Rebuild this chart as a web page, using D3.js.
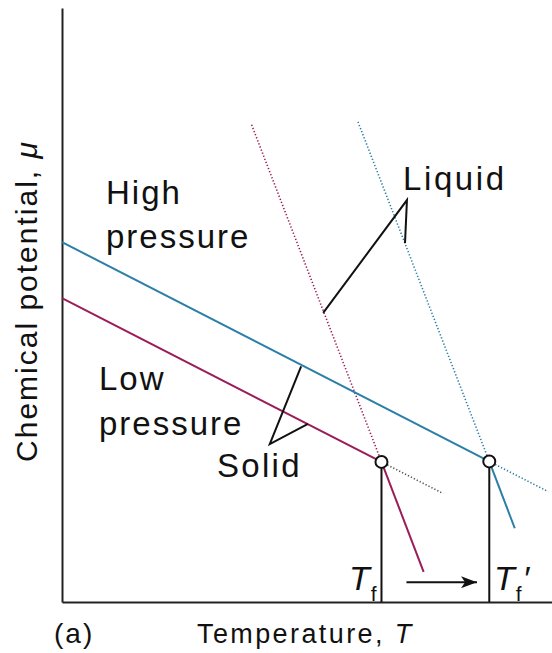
<!DOCTYPE html>
<html>
<head>
<meta charset="utf-8">
<script src="https://cdn.jsdelivr.net/npm/d3@7"></script>
<style>
  html, body { margin: 0; padding: 0; background: #fff; }
  svg { display: block; }
  text { font-family: "Liberation Sans", Arial, sans-serif; fill: #111; }
</style>
</head>
<body>
<svg id="chart" width="552" height="653"></svg>
<script>
// ---- data (temperature T, chemical potential mu, arbitrary units) ----
const meltingT = [6.52, 8.72];            // T_f (low p), T_f' (high p)
const meltingMu = [2.83, 2.84];
const solidLowT = [0, 6.52];   const solidLowMu = [6.14, 2.83];
const solidLowExtT = [6.52, 7.78]; const solidLowExtMu = [2.83, 2.19];
const solidHighT = [0, 8.72];  const solidHighMu = [7.27, 2.84];
const solidHighExtT = [8.72, 9.92]; const solidHighExtMu = [2.84, 2.23];
const liqLowDotT = [3.87, 6.52]; const liqLowDotMu = [9.64, 2.83];
const liqLowT = [6.52, 7.38];  const liqLowMu = [2.83, 0.61];
const liqHighDotT = [6.04, 8.72]; const liqHighDotMu = [9.70, 2.84];
const liqHighT = [8.72, 9.24]; const liqHighMu = [2.84, 1.49];
const liquidPointerT = [5.33, 7.04, 7.00]; const liquidPointerMu = [5.84, 8.12, 7.25];
const solidPointerT = [4.88, 4.24, 5.02];  const solidPointerMu = [4.76, 3.19, 3.60];
const arrowT = [7.03, 8.47]; const arrowMu = [0.40, 0.40];

const zip = (a, b) => a.map((v, i) => [v, b[i]]);

const svg = d3.select("#chart");
const x = d3.scaleLinear().domain([0, 10]).range([62, 552]);
const y = d3.scaleLinear().domain([0, 12]).range([602, 8]);
const line = d3.line().x(d => x(d[0])).y(d => y(d[1]));

const blue = "#2b7fa7", red = "#9a1d5a", grey = "#555";

// axes
const xAxis = d3.axisBottom(x).tickValues([]).tickSizeOuter(0);
const yAxis = d3.axisLeft(y).tickValues([]).tickSizeOuter(0);
svg.append("g").attr("transform", `translate(0,${y(0)})`).call(xAxis)
  .select(".domain").attr("stroke", "#222").attr("stroke-width", 2);
svg.append("g").attr("transform", `translate(${x(0)},0)`).call(yAxis)
  .select(".domain").attr("stroke", "#222").attr("stroke-width", 2);

function path(pts, color, dotted, w) {
  svg.append("path").attr("d", line(pts)).attr("fill", "none")
    .attr("stroke", color).attr("stroke-width", w || 2)
    .attr("stroke-dasharray", dotted ? "1.3,2" : null);
}

// dotted extensions
path(zip(liqLowDotT, liqLowDotMu), red, true, 1.6);
path(zip(liqHighDotT, liqHighDotMu), blue, true, 1.6);
path(zip(solidLowExtT, solidLowExtMu), grey, true, 1.6);
path(zip(solidHighExtT, solidHighExtMu), blue, true, 1.6);

// solid lines
path(zip(solidHighT, solidHighMu), blue, false, 2);
path(zip(solidLowT, solidLowMu), red, false, 2);
path(zip(liqLowT, liqLowMu), red, false, 2);
path(zip(liqHighT, liqHighMu), blue, false, 2);

// pointer lines
path(zip(liquidPointerT, liquidPointerMu), "#111", false, 2);
path(zip(solidPointerT, solidPointerMu), "#111", false, 2);

// vertical drop lines and circles
meltingT.forEach((t, i) => {
  svg.append("line").attr("x1", x(t)).attr("x2", x(t))
    .attr("y1", y(meltingMu[i])).attr("y2", y(0))
    .attr("stroke", "#111").attr("stroke-width", 2);
  svg.append("circle").attr("cx", x(t)).attr("cy", y(meltingMu[i])).attr("r", 6)
    .attr("fill", "#fff").attr("stroke", "#111").attr("stroke-width", 2);
});

// arrow
svg.append("defs").append("marker").attr("id", "ah")
  .attr("viewBox", "0 0 16 12").attr("refX", 16).attr("refY", 6)
  .attr("markerWidth", 16).attr("markerHeight", 12).attr("markerUnits", "userSpaceOnUse")
  .attr("orient", "auto")
  .append("path").attr("d", "M0,0 L16,6 L0,12 L4,6 Z").attr("fill", "#111");
svg.append("line").attr("x1", x(arrowT[0])).attr("x2", x(arrowT[1]))
  .attr("y1", y(arrowMu[0])).attr("y2", y(arrowMu[1]))
  .attr("stroke", "#111").attr("stroke-width", 2).attr("marker-end", "url(#ah)");

// labels
function label(txt, px, py, size, ls) {
  return svg.append("text").attr("x", px).attr("y", py)
    .style("font-size", size + "px").style("letter-spacing", (ls || 0) + "px").text(txt);
}
label("High", 106, 204, 33, 2);
label("pressure", 106, 248, 33, 2);
label("Low", 99, 390, 33, 2);
label("pressure", 99, 435, 33, 2);
label("Solid", 217, 477, 33, 2.3);
label("Liquid", 403, 190, 33, 2.6);

// T_f and T_f' with subscripts
function tsub(px, prime) {
  const t = svg.append("text").attr("x", px).attr("y", 590);
  t.append("tspan").style("font-size", "34px").style("font-style", "italic").text("T");
  t.append("tspan").attr("dx", 1).attr("dy", 11).style("font-size", "21px").text("f");
  if (prime) t.append("tspan").attr("dx", 1).attr("dy", -11)
    .style("font-size", "34px").style("font-style", "italic").text("′");
}
tsub(349, false);
tsub(494, true);

label("(a)", 54, 643, 28, 2);
const xl = label("Temperature, ", 197, 643, 27, 2.4);
xl.append("tspan").style("font-style", "italic").text("T");

svg.append("text").attr("transform", "translate(37,301) rotate(-90)")
  .attr("text-anchor", "middle").style("font-size", "30px").style("letter-spacing", "2px")
  .text("Chemical potential, ")
  .append("tspan").style("font-style", "italic").text("μ");
</script>
</body>
</html>
